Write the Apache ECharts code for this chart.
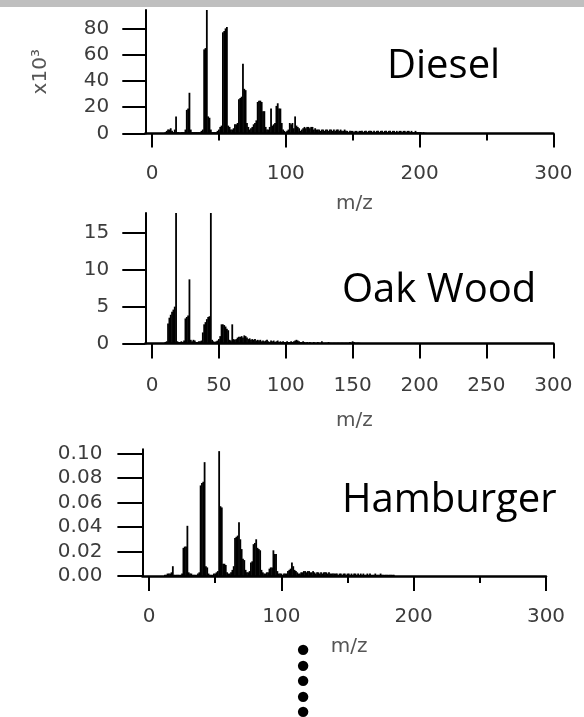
<!DOCTYPE html>
<html><head><meta charset="utf-8">
<script src="https://cdn.jsdelivr.net/npm/echarts@6/dist/echarts.min.js"></script>
<style>html,body{margin:0;padding:0;background:#fff}#c{width:584px;height:717px}</style>
</head><body><div id="c"></div>
<script>
// ---------- Diesel (intensity x10^3) ----------
const dieselMz = [
 10,11,12,13,14,15,16,17,18,19, 20,21,22,23,24,25,26,27,28,29,
 30,31,32,33,34,35,36,37,38,39, 40,41,42,43,44,45,46,47,48,49,
 50,51,52,53,54,55,56,57,58,59, 60,61,62,63,64,65,66,67,68,69,
 70,71,72,73,74,75,76,77,78,79, 80,81,82,83,84,85,86,87,88,89,
 90,91,92,93,94,95,96,97,98,99, 100,101,102,103,104,105,106,107,108,109,
 110,111,112,113,114,115,116,117,118,119, 120,121,122,123,124,125,126,127,128,129,
 130,131,132,133,134,135,136,137,138,139, 140,141,142,143,144,145,146,147,148,149,
 150,151,152,153,154,155,156,157,158,159, 160,161,162,163,164,165,166,167,168,169,
 170,171,172,173,174,175,176,177,178,179, 180,181,182,183,184,185,186,187,188,189,
 190,191,192,193,194,195,196,197,198,199, 200,201,202,203,204,205
];
const dieselAbund = [
 1,2,3,3,4,2,1,3,13,1, 1,0.5,1,1,1,3,18,19,31,3,
 1,1,1,1,1,1,1,2,3,64, 65,94,13,12,3,1,1,1,1,2,
 3,5,6,77,78,80,81,6,5,3, 3,4,7,7,8,26,27,28,53,34,
 33,8,5,3,4,5,7,8,10,24, 25,25,24,17,17,5,3,3,5,19,
 6,7,8,21,23,19,19,8,3,2, 1,2,3,8,7,8,4,13,6,5,
 4,2,3,4,5,4,5,5,4,5, 5,3,4,3,3,3,2,3,3,2,
 3,3,2,3,3,2,3,2,3,3, 2,3,2,2,3,2,2,1,2,2,
 2,1,2,2,1,2,2,2,1,2, 2,1,2,2,2,1,2,1,2,2,
 1,2,2,1,2,2,1,2,2,1, 2,2,1,2,1,2,2,1,2,2,
 1,2,2,1,2,1,1,2,1,1, 1,1,0.5,1,0.5,0.5
];
// ---------- Oak Wood ----------
const oakMz = [
 10,11,12,13,14,15,16,17,18,19, 20,21,22,23,24,25,26,27,28,29,
 30,31,32,33,34,35,36,37,38,39, 40,41,42,43,44,45,46,47,48,49,
 50,51,52,53,54,55,56,57,58,59, 60,61,62,63,64,65,66,67,68,69,
 70,71,72,73,74,75,76,77,78,79, 80,81,82,83,84,85,86,87,88,89,
 90,91,92,93,94,95,96,97,98,99, 100,101,102,103,104,105,106,107,108,109,
 110,111,112,113,114,115,116,117,118,119, 120,121,122,123,124,125,126,127,128,129,
 130,131,132,133,134,135,136,137,138,139, 140,141,142,143,144,145,146,147,148,149,
 150,151,152,153,154,155
];
const oakAbund = [
 0.2,0.3,2.7,3.5,3.9,4.3,4.6,5.0,17.7,0.3, 0.2,0.2,0.3,0.2,0.4,3.4,3.6,3.8,8.7,0.5,
 0.3,0.5,0.4,0.2,0.2,0.3,0.3,0.4,1.5,2.6, 2.9,3.3,3.6,3.7,17.7,0.5,0.3,0.2,0.3,0.4,
 0.6,1.0,2.6,2.6,2.5,2.3,2.0,1.8,0.5,0.4, 2.6,0.6,0.5,0.6,0.8,0.9,0.9,1.0,0.8,1.1,
 1.0,0.8,0.6,0.7,0.5,0.6,0.5,0.6,0.4,0.5, 0.4,0.5,0.3,0.4,0.3,0.4,0.5,0.3,0.2,0.4,
 0.3,0.4,0.2,0.3,0.4,0.2,0.3,0.2,0.3,0.2, 0.2,0.3,0.2,0.2,0.3,0.2,0.3,0.4,0.5,0.4,
 0.3,0.2,0.2,0.3,0.2,0.1,0.2,0.1,0.2,0.1, 0.1,0.2,0.1,0.1,0.2,0.1,0.1,0.3,0.1,0.1,
 0.1,0.1,0.2,0.1,0.1,0.1,0.1,0.1,0.1,0.1, 0.1,0.1,0.1,0.1,0.1,0.1,0.1,0.1,0.2,0.1,
 0.3,0.2,0.1,0.1,0.1,0.1
];
// ---------- Hamburger ----------
const burgerMz = [
 12,13,14,15,16,17,18,19, 20,21,22,23,24,25,26,27,28,29,
 30,31,32,33,34,35,36,37,38,39, 40,41,42,43,44,45,46,47,48,49,
 50,51,52,53,54,55,56,57,58,59, 60,61,62,63,64,65,66,67,68,69,
 70,71,72,73,74,75,76,77,78,79, 80,81,82,83,84,85,86,87,88,89,
 90,91,92,93,94,95,96,97,98,99, 100,101,102,103,104,105,106,107,108,109,
 110,111,112,113,114,115,116,117,118,119, 120,121,122,123,124,125,126,127,128,129,
 130,131,132,133,134,135,136,137,138,139, 140,141,142,143,144,145,146,147,148,149,
 150,151,152,153,154,155,156,157,158,159, 160,161,162,163,164,165,166,167,168,169,
 170,171,172,173,174,175,176,177,178,179, 180,181,182,183,184,185
];
const burgerAbund = [
 0.001,0.001,0.002,0.002,0.002,0.003,0.008,0.001,
 0.001,0.001,0.001,0.001,0.001,0.002,0.023,0.024,0.024,0.041,
 0.003,0.002,0.002,0.001,0.001,0.001,0.001,0.002,0.003,0.074,
 0.076,0.077,0.093,0.008,0.007,0.002,0.001,0.001,0.001,0.002,
 0.002,0.003,0.004,0.102,0.057,0.056,0.010,0.010,0.009,0.003,
 0.002,0.002,0.003,0.005,0.008,0.031,0.032,0.033,0.044,0.030,
 0.022,0.014,0.013,0.005,0.003,0.003,0.004,0.011,0.012,0.026,
 0.027,0.030,0.023,0.022,0.021,0.005,0.003,0.002,0.002,0.003,
 0.003,0.006,0.007,0.007,0.021,0.018,0.018,0.004,0.002,0.002,
 0.002,0.001,0.002,0.002,0.002,0.004,0.005,0.006,0.011,0.008,
 0.005,0.004,0.003,0.002,0.002,0.003,0.003,0.004,0.004,0.003,
 0.004,0.004,0.003,0.003,0.004,0.003,0.002,0.003,0.003,0.002,
 0.003,0.002,0.003,0.003,0.003,0.002,0.003,0.002,0.002,0.002,
 0.002,0.002,0.002,0.001,0.002,0.002,0.001,0.002,0.002,0.001,
 0.002,0.002,0.001,0.002,0.001,0.002,0.002,0.001,0.002,0.001,
 0.002,0.001,0.002,0.001,0.001,0.002,0.001,0.002,0.001,0.001,
 0.001,0.002,0.001,0.001,0.001,0.002,0.001,0.001,0.001,0.001,
 0.001,0.001,0.001,0.001,0.001,0.001
];
// ---------- ticks / labels ----------
const dieselYTicks = [0, 20, 40, 60, 80];
const oakYTicks = [0, 5, 10, 15];
const burgerYTicks = [0, 0.02, 0.04, 0.06, 0.08, 0.10];
const xMajorTicks = [0, 100, 200, 300];
const xMinorTicks = [50, 150, 250];
const oakXTicks = [0, 50, 100, 150, 200, 250, 300];
const panelNames = ['Diesel', 'Oak Wood', 'Hamburger'];
const xName = 'm/z';
const dieselYName = 'x10³';

const pairs = (m, v) => m.map((x, i) => [x, v[i]]);
const LBL = {fontFamily: 'DejaVu Sans', fontSize: 20, fontWeight: 'normal', color: '#3c3c3c'};
const BLK = '#000';

function xAxisMain(grid, ticks, tickLen, labelMargin, nameGap) {
  return {
    gridIndex: grid, type: 'value', min: -5, max: 300, position: 'bottom',
    axisLine: {show: true, onZero: false, lineStyle: {color: BLK, width: 2.5}},
    axisTick: {show: true, customValues: ticks, length: tickLen, lineStyle: {color: BLK, width: 2}},
    axisLabel: Object.assign({customValues: ticks, margin: labelMargin}, LBL),
    splitLine: {show: false},
    name: xName, nameLocation: 'middle', nameGap: nameGap,
    nameTextStyle: {fontFamily: 'DejaVu Sans', fontSize: 20, color: '#555', padding: [0, 0, 0, 10]}
  };
}
function xAxisMinor(grid) {
  return {
    gridIndex: grid, type: 'value', min: -5, max: 300, position: 'bottom',
    axisLine: {show: false},
    axisTick: {show: true, customValues: xMinorTicks, length: 7, lineStyle: {color: BLK, width: 2}},
    axisLabel: {show: false}, splitLine: {show: false}
  };
}
function yAxisOf(grid, max, ticks, tickLen, margin, fmt) {
  return {
    gridIndex: grid, type: 'value', min: 0, max: max,
    axisLine: {show: true, onZero: false, lineStyle: {color: BLK, width: 2}},
    axisTick: {show: true, customValues: ticks, length: tickLen, lineStyle: {color: BLK, width: 2}},
    axisLabel: Object.assign({customValues: ticks, margin: margin, formatter: fmt}, LBL),
    splitLine: {show: false}
  };
}

const y0 = yAxisOf(0, 94, dieselYTicks, 23, 36, v => String(v));
Object.assign(y0, {name: dieselYName, nameLocation: 'middle', nameRotate: 90, nameGap: 95,
  nameTextStyle: {fontFamily: 'DejaVu Sans', fontSize: 20, color: '#555'}});

const titleStyle = {fontFamily: 'Open Sans', fontSize: 40, fontWeight: 'normal', color: '#000'};

const option = {
  animation: false,
  backgroundColor: '#fff',
  graphic: [{type: 'rect', left: 0, top: 0, shape: {width: 584, height: 7}, style: {fill: '#bfbfbf'}}],
  title: [
    {text: panelNames[0], left: 387, top: 47, padding: 0, textStyle: titleStyle},
    {text: panelNames[1], left: 342, top: 271, padding: 0, textStyle: titleStyle},
    {text: panelNames[2], left: 342, top: 481, padding: 0, textStyle: titleStyle},
    {text: '•\n•\n•\n•\n•', left: 292.5, top: 646, padding: 0,
     textStyle: {fontFamily: 'DejaVu Sans', fontSize: 36, lineHeight: 15.5, color: '#000', fontWeight: 'normal'}}
  ],
  grid: [
    {left: 145.3, top: 10, width: 408, height: 123.5, outerBoundsMode: 'none', containLabel: false},
    {left: 145.3, top: 213, width: 408, height: 130.5, outerBoundsMode: 'none', containLabel: false},
    {left: 142.4, top: 449.3, width: 403.6, height: 126.7, outerBoundsMode: 'none', containLabel: false}
  ],
  xAxis: [
    xAxisMain(0, xMajorTicks, 14, 30, 60),
    xAxisMinor(0),
    xAxisMain(1, oakXTicks, 15, 32, 67),
    xAxisMain(2, xMajorTicks, 15, 31, 61),
    xAxisMinor(2)
  ],
  yAxis: [
    y0,
    yAxisOf(1, 17.7, oakYTicks, 23, 36, v => String(v)),
    yAxisOf(2, 0.1035, burgerYTicks, 25, 40, v => v.toFixed(2))
  ],
  series: [
    {type: 'bar', xAxisIndex: 0, yAxisIndex: 0, data: pairs(dieselMz, dieselAbund), barWidth: 1.8, itemStyle: {color: BLK}, silent: true},
    {type: 'bar', xAxisIndex: 2, yAxisIndex: 1, data: pairs(oakMz, oakAbund), barWidth: 1.8, itemStyle: {color: BLK}, silent: true},
    {type: 'bar', xAxisIndex: 3, yAxisIndex: 2, data: pairs(burgerMz, burgerAbund), barWidth: 1.8, itemStyle: {color: BLK}, silent: true}
  ]
};
const chart = echarts.init(document.getElementById('c'), null, {renderer: 'canvas'});
chart.setOption(option);
</script></body></html>
